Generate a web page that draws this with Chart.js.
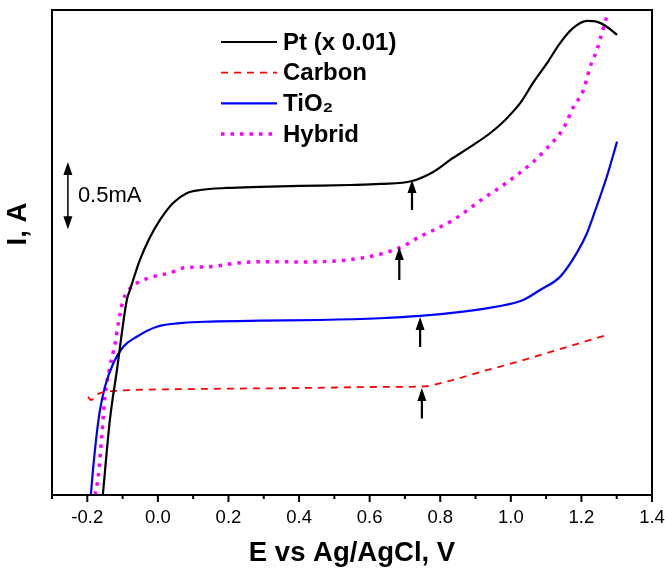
<!DOCTYPE html>
<html><head><meta charset="utf-8">
<script src="https://cdn.jsdelivr.net/npm/chart.js@4"></script>
<style>html,body{margin:0;padding:0;background:#fff}</style>
</head><body>
<canvas id="c" width="665" height="572" style="width:665px;height:572px;display:block"></canvas>
<script>
// ---- data (E in V vs Ag/AgCl, I in mA, arbitrary offset) ----
const ptX=[-0.156,-0.136,-0.116,-0.088,-0.079,-0.051,-0.022,0.006,0.043,0.083,0.120,0.196,0.290,0.403,0.545,0.630,0.720,0.780,0.828,0.885,0.942,0.984,1.027,1.063,1.103,1.140,1.177,1.216,1.245,1.273,1.301];
const ptY=[0,0.557,0.928,1.448,1.522,1.745,1.915,2.042,2.168,2.242,2.264,2.279,2.287,2.294,2.301,2.309,2.331,2.398,2.487,2.584,2.687,2.784,2.910,3.059,3.207,3.356,3.467,3.519,3.512,3.474,3.415];
const carbonX=[-0.198,-0.189,-0.175,-0.150,-0.127,0.120,0.403,0.630,0.746,0.820,0.913,1.007,1.103,1.197,1.273];
const carbonY=[0.728,0.705,0.742,0.765,0.772,0.787,0.794,0.802,0.805,0.843,0.913,0.980,1.054,1.128,1.188];
const tioX=[-0.190,-0.183,-0.173,-0.164,-0.150,-0.126,-0.098,-0.060,-0.003,0.071,0.148,0.290,0.460,0.630,0.743,0.865,0.960,1.035,1.083,1.140,1.187,1.216,1.233,1.253,1.272,1.301];
const tioY=[0,0.210,0.460,0.631,0.804,0.980,1.101,1.175,1.249,1.277,1.287,1.294,1.299,1.312,1.329,1.361,1.398,1.448,1.522,1.621,1.797,1.945,2.066,2.215,2.363,2.623];
const hybX=[-0.178,-0.169,-0.159,-0.150,-0.136,-0.121,-0.112,-0.098,-0.074,-0.051,-0.014,0.034,0.071,0.148,0.224,0.290,0.403,0.573,0.682,0.743,0.837,0.923,0.979,1.064,1.093,1.149,1.178,1.206,1.225,1.244,1.258,1.272];
const hybY=[0,0.136,0.433,0.730,0.952,1.128,1.277,1.448,1.546,1.584,1.621,1.648,1.685,1.695,1.722,1.732,1.730,1.757,1.832,1.918,2.042,2.203,2.301,2.474,2.549,2.722,2.883,3.007,3.180,3.304,3.428,3.551];
const seriesNames=['Pt (x 0.01)','Carbon','TiO\u2082','Hybrid'];
// onset arrows: E position, arrow tip current, arrow tail current
const arrowE=[0.720,0.684,0.743,0.748];
const arrowTip=[2.339,1.841,1.321,0.794];
const arrowTail=[2.116,1.596,1.099,0.568];
// scale bar
const scaleBarE=-0.255, scaleBarTop=2.472, scaleBarSize=0.5, scaleBarLabel='0.5mA';
const xTitle='E vs Ag/AgCl, V', yTitle='I, A';

const FONT='Arial, "Liberation Sans", sans-serif';
const pts=(xs,ys)=>xs.map((v,i)=>({x:v,y:ys[i]}));

const overlay={
  id:'overlay',
  afterDraw(chart){
    const {ctx,chartArea:a,scales:{x,y}}=chart;
    ctx.save();
    ctx.strokeStyle='#000';ctx.fillStyle='#000';ctx.lineWidth=2;
    ctx.strokeRect(a.left,a.top,a.right-a.left,a.bottom-a.top);
    // ticks
    x.ticks.forEach(t=>{
      const px=x.getPixelForValue(t.value);
      const major=Math.abs(Math.round(t.value*10))%2===0;
      ctx.beginPath();ctx.moveTo(px,a.bottom);ctx.lineTo(px,a.bottom+(major?7:4));ctx.stroke();
    });
    // arrows
    const arrowHead=(px,py,dir)=>{ctx.beginPath();ctx.moveTo(px,py);ctx.lineTo(px-4.5,py-dir*13);ctx.lineTo(px+4.5,py-dir*13);ctx.closePath();ctx.fill();};
    arrowE.forEach((e,i)=>{
      const px=x.getPixelForValue(e),ty=y.getPixelForValue(arrowTip[i]),by=y.getPixelForValue(arrowTail[i]);
      ctx.lineWidth=2.2;ctx.beginPath();ctx.moveTo(px,by);ctx.lineTo(px,ty+6);ctx.stroke();
      arrowHead(px,ty,-1);
    });
    // scale bar
    const sx=x.getPixelForValue(scaleBarE),s1=y.getPixelForValue(scaleBarTop),s2=y.getPixelForValue(scaleBarTop-scaleBarSize);
    ctx.lineWidth=1.5;ctx.beginPath();ctx.moveTo(sx,s1+6);ctx.lineTo(sx,s2-6);ctx.stroke();
    arrowHead(sx,s1,-1);arrowHead(sx,s2,1);
    ctx.font='22px '+FONT;ctx.textBaseline='middle';ctx.textAlign='left';
    ctx.fillText(scaleBarLabel,sx+10,(s1+s2)/2);
    // legend
    chart.data.datasets.forEach((ds,i)=>{
      const ly=42+30.7*i;
      ctx.save();
      ctx.strokeStyle=ds.borderColor;ctx.lineWidth=ds.borderWidth;ctx.setLineDash(ds.borderDash||[]);
      ctx.beginPath();ctx.moveTo(221,ly);ctx.lineTo(277,ly);ctx.stroke();
      ctx.restore();
      ctx.font='bold 24px '+FONT;ctx.fillStyle='#000';ctx.textBaseline='middle';ctx.textAlign='left';
      ctx.fillText(ds.label,283,ly+1);
    });
    // axis titles
    ctx.font='bold 27.5px '+FONT;ctx.textAlign='center';ctx.textBaseline='middle';
    ctx.fillText(xTitle,(a.left+a.right)/2,553);
    ctx.save();ctx.translate(18,224);ctx.rotate(-Math.PI/2);ctx.fillText(yTitle,0,0);ctx.restore();
    ctx.restore();
  }
};

new Chart(document.getElementById('c'),{
  type:'line',
  data:{datasets:[
    {label:seriesNames[0],data:pts(ptX,ptY),borderColor:'#000000',borderWidth:2.2},
    {label:seriesNames[1],data:pts(carbonX,carbonY),borderColor:'#ff0000',borderWidth:1.8,borderDash:[7,6]},
    {label:seriesNames[2],data:pts(tioX,tioY),borderColor:'#0000ff',borderWidth:2.2},
    {label:seriesNames[3],data:pts(hybX,hybY),borderColor:'#ff00ff',borderWidth:3.5,borderDash:[3.5,6]}
  ]},
  options:{
    responsive:false,animation:false,devicePixelRatio:1,
    elements:{point:{radius:0},line:{cubicInterpolationMode:'monotone',fill:false}},
    layout:{padding:{top:10,right:13,left:0,bottom:0}},
    plugins:{legend:{display:false},tooltip:{enabled:false}},
    scales:{
      x:{type:'linear',min:-0.3,max:1.4,grid:{display:false,drawTicks:false},border:{display:false},
        ticks:{stepSize:0.1,autoSkip:false,maxRotation:0,padding:12,color:'#000',font:{size:18.5,family:FONT},
          callback:v=>(Math.abs(Math.round(v*10))%2===0)?Number(v).toFixed(1):''},
        afterFit:s=>{s.height=77;s.paddingRight=0;s.paddingLeft=0;}},
      y:{type:'linear',min:0,max:3.6,grid:{display:false},border:{display:false},ticks:{display:false},
        afterFit:s=>{s.width=52;s.paddingTop=0;s.paddingBottom=0;}}
    }
  },
  plugins:[overlay]
});
</script>
</body></html>
